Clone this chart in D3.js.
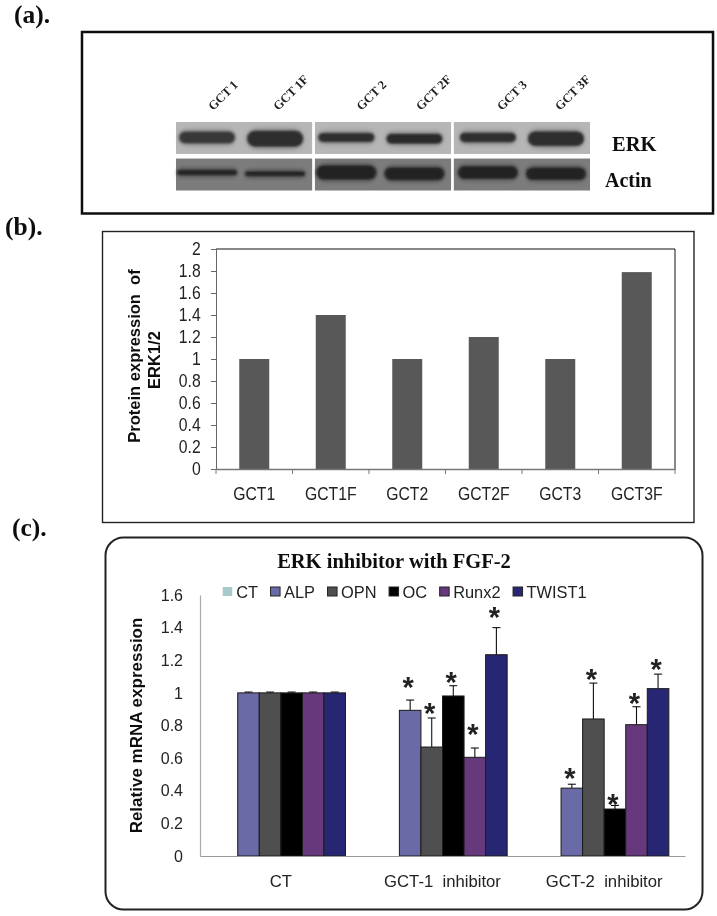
<!DOCTYPE html>
<html><head><meta charset="utf-8">
<script src="https://cdn.jsdelivr.net/npm/d3@7"></script>
<style>
html,body{margin:0;padding:0;background:#fff;}
svg{display:block;}
text{white-space:pre;}
</style></head><body><div id="c"></div>
<script>
// ---------- data ----------
const blotLanes = ["GCT 1","GCT 1F","GCT 2","GCT 2F","GCT 3","GCT 3F"];
const blotRows = ["ERK","Actin"];
const erkSignal = [12,16,9,10,9.5,14.5];
const erkDarkness = [0.74,0.86,0.86,0.84,0.86,0.86];
const actinSignal = [5.5,5,14.5,13,13,12.5];

const proteinCategories = ["GCT1","GCT1F","GCT2","GCT2F","GCT3","GCT3F"];
const proteinValues = [1,1.4,1,1.2,1,1.79];
const proteinTicks = [0,0.2,0.4,0.6,0.8,1,1.2,1.4,1.6,1.8,2];

const mrnaGroups = ["CT","GCT-1  inhibitor","GCT-2  inhibitor"];
const mrnaSeries = ["CT","ALP","OPN","OC","Runx2","TWIST1"];
const mrnaColors = ["#a8caca","#6b6ba6","#505050","#000000","#66397c","#282872"];
const mrnaTicks = [0,0.2,0.4,0.6,0.8,1,1.2,1.4,1.6];
const valCT  = [0,1,1,1,1,1];
const valG1  = [0,0.893,0.668,0.981,0.605,1.234];
const valG2  = [0,0.416,0.84,0.288,0.805,1.026];
const errCT  = [0,1.005,1.005,1.005,1.005,1.005];
const errG1  = [0,0.956,0.846,1.044,0.662,1.40];
const errG2  = [0,0.44,1.06,0.31,0.915,1.115];
const starG1 = [null,1.061,0.901,1.092,0.773,1.49];
const starG2 = [null,0.503,1.11,0.343,0.963,1.17];

// ---------- page ----------
const W=717,H=916;
const svg=d3.select("#c").append("svg").attr("width",W).attr("height",H);
const serif='"Liberation Serif","Times New Roman",serif', sans='"Liberation Sans",Arial,sans-serif';
const defs=svg.append("defs");
const blur=(id,s)=>defs.append("filter").attr("id",id).attr("x","-20%").attr("y","-60%").attr("width","140%").attr("height","220%")
  .append("feGaussianBlur").attr("stdDeviation",s);
blur("b1",1.0);blur("b3",2.6);blur("soft",0.35);
const root=svg.append("g").attr("filter","url(#soft)");

const panelLetter=(t,x,y)=>root.append("text").attr("x",x).attr("y",y).text(t)
  .attr("font-family",serif).attr("font-weight","bold").attr("font-size",25.5).attr("fill","#111");
panelLetter("(a).",14,23);
panelLetter("(b).",5,235);
panelLetter("(c).",12,536);

// ---------- (a) blot ----------
root.append("rect").attr("x",82).attr("y",32).attr("width",631).attr("height",181.5)
  .attr("fill","#fff").attr("stroke","#111").attr("stroke-width",2.5);
const blotPanels=[0,1,2];
const panelX=d3.scaleBand().domain(blotPanels).range([176,590]).paddingInner(0.02);
const rowY=d3.scaleBand().domain(blotRows).range([122,190.5]).paddingInner(0.125);
const panelNudge=[-3,-2.6,0];
const labelShift=[3,0,12,3.5,11,1];
const rowFill={ERK:"#b6b6b6",Actin:"#7c7c7c"};
const rowBandWidth={ERK:56,Actin:60};
const rowSignal={ERK:erkSignal,Actin:actinSignal};
const inner=d3.scaleBand().domain([0,1]).range([0,panelX.bandwidth()]).paddingInner(0.16).paddingOuter(0.08);
const laneCentre=i=>{const p=Math.floor(i/2);return panelX(p)+panelNudge[p]+inner(i%2)+inner.bandwidth()/2;};
const gel=root.append("g");
blotRows.forEach(r=>{
  gel.selectAll(null).data(blotPanels).join("rect")
    .attr("x",p=>panelX(p)).attr("width",panelX.bandwidth())
    .attr("y",rowY(r)).attr("height",rowY.bandwidth())
    .attr("fill",rowFill[r]);
  const lanes=rowSignal[r].map((s,i)=>({s,i}));
  const cy=rowY(r)+rowY.bandwidth()/2;
  const mk=(f,extra,op)=>gel.selectAll(null).data(lanes).join("rect")
    .attr("x",d=>laneCentre(d.i)-rowBandWidth[r]/2)
    .attr("width",rowBandWidth[r])
    .attr("y",d=>cy+(r==="ERK"?-0.5:-2)+(d.i%2?1.2:0)-d.s/2-extra/2)
    .attr("height",d=>d.s+extra)
    .attr("rx",d=>(d.s+extra)/2)
    .attr("filter",f).attr("fill","#1c1c1c")
    .attr("fill-opacity",d=>op*(r==="ERK"?erkDarkness[d.i]:0.9));
  mk("url(#b3)",3,0.38);
  mk("url(#b1)",0,1);
});
root.append("g").selectAll("text").data(blotLanes).join("text")
  .attr("transform",(d,i)=>`translate(${laneCentre(i)+labelShift[i]},${108}) rotate(-45)`)
  .attr("text-anchor","start").attr("dy","0.35em").text(d=>d)
  .attr("font-family",serif).attr("font-weight","bold").attr("font-size",12.5).attr("fill","#222");
root.append("text").attr("x",612).attr("y",151).text("ERK").attr("font-family",serif).attr("font-weight","bold").attr("font-size",20.5).attr("fill","#111");
root.append("text").attr("x",605).attr("y",187).text("Actin").attr("font-family",serif).attr("font-weight","bold").attr("font-size",20).attr("fill","#111");

// ---------- (b) ----------
root.append("rect").attr("x",102.5).attr("y",231.5).attr("width",591.5).attr("height",291)
  .attr("fill","#fff").attr("stroke","#222").attr("stroke-width",1.4);
const bx=d3.scaleBand().domain(proteinCategories).range([216,675]).padding(0);
const by=d3.scaleLinear().domain([0,2]).range([469,249]);
const bw=30;
root.append("path").attr("d",`M216,${by(2)}H675V${by(0)}`).attr("fill","none").attr("stroke","#111").attr("stroke-width",1);
root.append("g").selectAll("rect").data(proteinValues).join("rect")
  .attr("x",(d,i)=>bx(proteinCategories[i])+bx.bandwidth()/2-bw/2).attr("width",bw)
  .attr("y",d=>by(d)).attr("height",d=>by(0)-by(d)).attr("fill","#595959");
const byAxis=root.append("g").attr("transform","translate(216,0)")
  .call(d3.axisLeft(by).tickValues(proteinTicks).tickFormat(d3.format("~g")).tickSize(5).tickPadding(12));
byAxis.selectAll("text").attr("font-family",sans).attr("font-size",17.5).attr("fill","#222").attr("transform","scale(0.9,1)");
byAxis.selectAll("line,path").attr("stroke","#666");
const bxAxis=root.append("g").attr("transform","translate(0,469)")
  .call(d3.axisBottom(bx).tickSize(0).tickPadding(19));
bxAxis.selectAll("text").attr("font-family",sans).attr("font-size",17.5).attr("fill","#222").attr("transform","scale(0.9,1)");
bxAxis.selectAll("path").attr("stroke","#777").attr("stroke-width",1.6);
root.append("g").selectAll("line").data(proteinCategories.concat(["end"])).join("line")
  .attr("x1",(d,i)=>bx.range()[0]+i*bx.step()).attr("x2",(d,i)=>bx.range()[0]+i*bx.step())
  .attr("y1",469).attr("y2",474).attr("stroke","#777");
const bt=root.append("text").attr("transform","translate(144,356) rotate(-90)").attr("text-anchor","middle")
  .attr("font-family",sans).attr("font-weight","bold").attr("font-size",16.5).attr("fill","#111");
bt.append("tspan").attr("x",0).attr("dy",-4).text("Protein expression  of");
bt.append("tspan").attr("x",-4).attr("dy",20).text("ERK1/2");

// ---------- (c) ----------
root.append("rect").attr("x",105.5).attr("y",537.5).attr("width",597).attr("height",372).attr("rx",18)
  .attr("fill","#fff").attr("stroke","#222").attr("stroke-width",2);
root.append("text").attr("x",394).attr("y",568).attr("text-anchor","middle").text("ERK inhibitor with FGF-2")
  .attr("font-family",serif).attr("font-weight","bold").attr("font-size",20.5).attr("fill","#111");
const cx=d3.scaleBand().domain(mrnaGroups).range([200,685]).paddingInner(0.2).paddingOuter(0.1);
const cs=d3.scaleBand().domain(mrnaSeries).range([0,cx.bandwidth()]);
const cy=d3.scaleLinear().domain([0,1.6]).range([856,595]);
const groupRows=[[valCT,errCT,null],[valG1,errG1,starG1],[valG2,errG2,starG2]];
const marks=root.append("g");
groupRows.forEach(([vals,errs,stars],g)=>{
  const gx=cx(mrnaGroups[g]);
  const items=mrnaSeries.map((s,i)=>({s,i,v:vals[i],e:errs[i],st:stars?stars[i]:null})).filter(d=>d.v>0);
  const G=marks.append("g").attr("transform",`translate(${gx},0)`);
  G.selectAll("line.e").data(items).join("line").attr("class","e")
    .attr("x1",d=>cs(d.s)+cs.bandwidth()/2).attr("x2",d=>cs(d.s)+cs.bandwidth()/2)
    .attr("y1",d=>cy(d.v)).attr("y2",d=>cy(d.e)).attr("stroke","#111").attr("stroke-width",1.1);
  G.selectAll("line.c").data(items).join("line").attr("class","c")
    .attr("x1",d=>cs(d.s)+cs.bandwidth()/2-4).attr("x2",d=>cs(d.s)+cs.bandwidth()/2+4)
    .attr("y1",d=>cy(d.e)).attr("y2",d=>cy(d.e)).attr("stroke","#111").attr("stroke-width",1.1);
  G.selectAll("rect").data(items).join("rect")
    .attr("x",d=>cs(d.s)).attr("width",cs.bandwidth())
    .attr("y",d=>cy(d.v)).attr("height",d=>cy(0)-cy(d.v))
    .attr("fill",d=>mrnaColors[d.i]).attr("stroke","#1a1a1a").attr("stroke-width",1);
  G.selectAll("text").data(items.filter(d=>d.st!=null)).join("text")
    .attr("x",d=>cs(d.s)+cs.bandwidth()/2-2).attr("y",d=>cy(d.st)+14).attr("text-anchor","middle").text("*")
    .attr("font-family",sans).attr("font-weight","bold").attr("font-size",29).attr("fill","#222");
});
const cyAxis=root.append("g").attr("transform","translate(200,0)")
  .call(d3.axisLeft(cy).tickValues(mrnaTicks).tickFormat(d3.format("~g")).tickSize(0).tickPadding(17));
cyAxis.selectAll("text").attr("font-family",sans).attr("font-size",16).attr("fill","#222");
cyAxis.selectAll("path").attr("stroke","#aaa").attr("stroke-width",1.2);
const cxAxis=root.append("g").attr("transform","translate(0,856)")
  .call(d3.axisBottom(cx).tickSize(0).tickPadding(19));
cxAxis.selectAll("text").attr("font-family",sans).attr("font-size",16.7).attr("fill","#222");
cxAxis.selectAll("path").attr("stroke","#999").attr("stroke-width",1.2);
root.append("text").attr("transform","translate(142,725.5) rotate(-90)").attr("text-anchor","middle")
  .text("Relative mRNA expression").attr("font-family",sans).attr("font-weight","bold").attr("font-size",17).attr("fill","#111");
// legend
let lx=222.7;
const leg=root.append("g");
mrnaSeries.forEach((s,i)=>{
  leg.append("rect").attr("x",lx).attr("y",587).attr("width",9.5).attr("height",9).attr("fill",mrnaColors[i])
    .attr("stroke",i?"#222":"none").attr("stroke-width",1);
  const t=leg.append("text").attr("x",lx+13.5).attr("y",598).text(s)
    .attr("font-family",sans).attr("font-size",16.4).attr("fill","#222");
  lx+=13.5+t.node().getComputedTextLength()+12.5;
});
</script></body></html>
